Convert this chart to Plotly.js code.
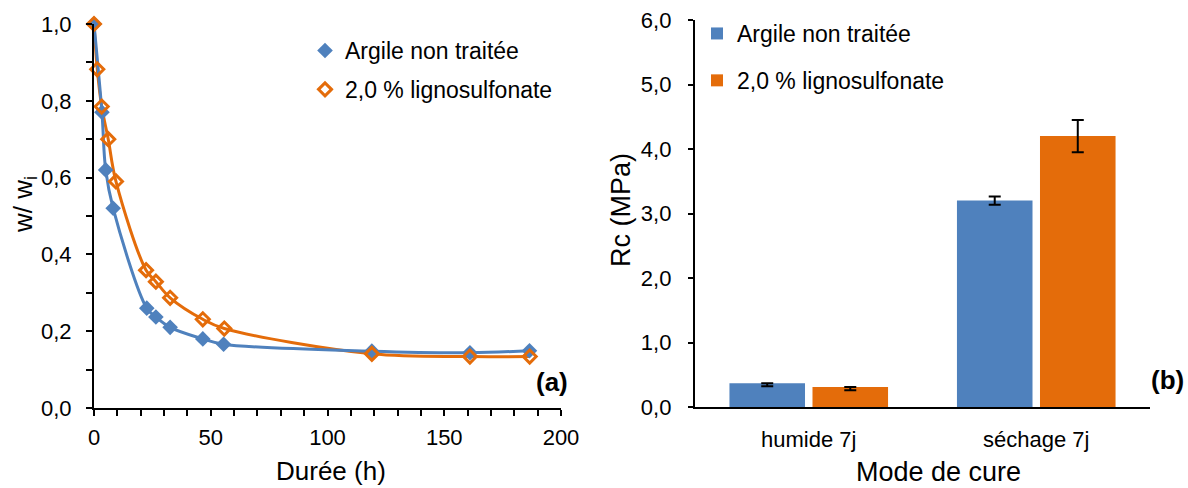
<!DOCTYPE html>
<html><head><meta charset="utf-8">
<script src="https://cdn.plot.ly/plotly-3.0.1.min.js"></script>
<style>html,body{margin:0;padding:0;background:#fff}#c{width:1188px;height:488px}</style>
</head><body><div id="c"></div>
<script>
// Panel (a): drying kinetics
const seriesNames = ['Argile non traitée', '2,0 % lignosulfonate'];
const tBlue = [0, 3.4, 5, 8.2, 22.6, 26.5, 32.6, 46.6, 55.5, 119, 161, 186.5];
const wBlue = [1.0, 0.77, 0.62, 0.52, 0.26, 0.237, 0.21, 0.18, 0.166, 0.148, 0.144, 0.149];
const tOrange = [0, 1.4, 3.3, 6.1, 9.4, 22.3, 26.5, 32.6, 46.6, 55.8, 119, 161, 186.6];
const wOrange = [1.0, 0.882, 0.785, 0.70, 0.59, 0.359, 0.329, 0.287, 0.231, 0.207, 0.141, 0.134, 0.134];

// Panel (b): compressive strength
const modes = ['humide 7j', 'séchage 7j'];
const rcBlue = [0.37, 3.2];
const rcBlueErr = [0.03, 0.065];
const rcOrange = [0.31, 4.2];
const rcOrangeErr = [0.03, 0.25];

const blue = '#4F81BD', orange = '#E46C0A';
const FONT = '"Liberation Sans", Arial, sans-serif';

const traces = [
  {x: tOrange, y: wOrange, mode: 'lines', line: {color: orange, width: 3, shape: 'spline', smoothing: 1}, showlegend: false, hoverinfo: 'skip', xaxis: 'x', yaxis: 'y'},
  {x: tBlue, y: wBlue, mode: 'lines', line: {color: blue, width: 3, shape: 'spline', smoothing: 1}, showlegend: false, hoverinfo: 'skip', xaxis: 'x', yaxis: 'y'},
  {x: tBlue, y: wBlue, mode: 'markers', name: seriesNames[0], legendgroup: 'a1', marker: {symbol: 'diamond', size: 12, color: blue}, xaxis: 'x', yaxis: 'y', legend: 'legend', cliponaxis: false},
  {x: tOrange, y: wOrange, mode: 'markers', name: seriesNames[1], legendgroup: 'a2', marker: {symbol: 'diamond-open', size: 10, color: orange, line: {width: 3, color: orange}}, xaxis: 'x', yaxis: 'y', legend: 'legend', cliponaxis: false},
  {type: 'bar', x: modes, y: rcBlue, name: seriesNames[0], legendgroup: 'b1', marker: {color: blue}, xaxis: 'x2', yaxis: 'y2', legend: 'legend2',
   error_y: {type: 'data', symmetric: false, array: [0, rcBlueErr[1]], arrayminus: [0.05, rcBlueErr[1]], color: '#000', thickness: 2, width: 6}},
  {type: 'bar', x: modes, y: rcOrange, name: seriesNames[1], legendgroup: 'b2', marker: {color: orange}, xaxis: 'x2', yaxis: 'y2', legend: 'legend2',
   error_y: {type: 'data', symmetric: false, array: [0, rcOrangeErr[1]], arrayminus: [0.05, rcOrangeErr[1]], color: '#000', thickness: 2, width: 6}}
];

const axisCommon = {showline: true, linecolor: '#000', linewidth: 2, ticks: 'outside', ticklen: 6, tickwidth: 2, tickcolor: '#000',
  showgrid: false, zeroline: false, tickfont: {family: FONT, size: 22, color: '#000'}};

const ann = (text, x, y, size, angle) => ({text: text, xref: 'paper', yref: 'paper', x: x/1188, y: 1 - y/488,
  xanchor: 'center', yanchor: 'middle', textangle: angle || 0, showarrow: false, font: {family: FONT, size: size, color: '#000'}});

const layout = {
  width: 1188, height: 488,
  margin: {l: 0, r: 0, t: 0, b: 0},
  paper_bgcolor: '#fff', plot_bgcolor: '#fff',
  separators: ', ',
  font: {family: FONT, color: '#000'},
  barmode: 'group', bargap: 0.27, bargroupgap: 0.09,
  xaxis: Object.assign({}, axisCommon, {domain: [94/1188, 561/1188], range: [0, 200], tickvals: [0, 50, 100, 150, 200],
    ticklabelstandoff: 3,
    minor: {dtick: 10, ticks: 'outside', ticklen: 6, tickwidth: 2, tickcolor: '#000'}, anchor: 'y'}),
  yaxis: Object.assign({}, axisCommon, {domain: [80/488, 464/488], range: [0, 1], dtick: 0.2, tickformat: '.1f',
    ticklabelstandoff: 10,
    minor: {dtick: 0.1, ticks: 'outside', ticklen: 6, tickwidth: 2, tickcolor: '#000'}, anchor: 'x'}),
  xaxis2: Object.assign({}, axisCommon, {domain: [695/1188, 1150/1188], ticks: '', ticklabelstandoff: 12, anchor: 'y2'}),
  yaxis2: Object.assign({}, axisCommon, {domain: [81/488, 468/488], range: [0, 6], dtick: 1, tickformat: '.1f', ticklen: 5,
    ticksuffix: '\u00a0\u00a0', anchor: 'x2'}),
  legend: {x: 305/1188, y: 1 - 29/488, xanchor: 'left', yanchor: 'top', bgcolor: 'rgba(0,0,0,0)', font: {family: FONT, size: 23, color: '#000'},
    traceorder: 'grouped', tracegroupgap: 6, itemwidth: 30},
  legend2: {x: 697/1188, y: 1 - 12/488, xanchor: 'left', yanchor: 'top', bgcolor: 'rgba(0,0,0,0)', font: {family: FONT, size: 23, color: '#000'},
    traceorder: 'grouped', tracegroupgap: 14, itemwidth: 30},
  annotations: [
    ann('w/ w<sub>i</sub>', 24, 205, 26, -90),
    ann('Durée (h)', 331, 471, 26),
    ann('<b>(a)</b>', 552, 382, 26),
    ann('Rc (MPa)', 621, 210, 27, -90),
    ann('Mode de cure', 938, 472, 27),
    ann('<b>(b)</b>', 1167, 380, 26)
  ]
};

Plotly.newPlot('c', traces, layout, {displayModeBar: false, staticPlot: true});
</script></body></html>
